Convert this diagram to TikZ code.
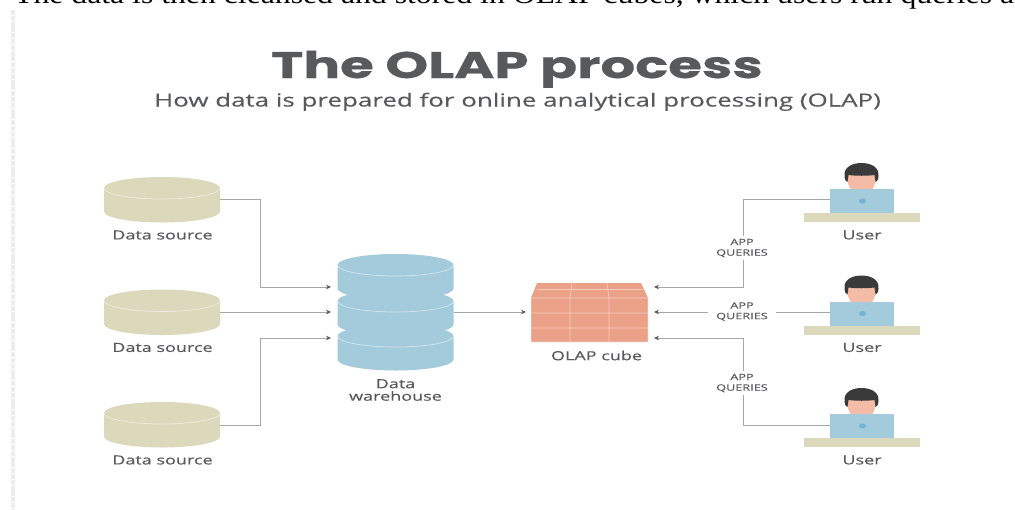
\documentclass[tikz,border=0pt]{standalone}
\usepackage{fontspec}
\setmainfont[FakeStretch=1.175]{Liberation Serif}
\newfontfamily\titlefont[FakeStretch=1.475,FakeBold=0.6]{Poppins Bold}
\newfontfamily\labelfont[FakeStretch=1.44,FakeBold=0.25]{Open Sans}
\usetikzlibrary{arrows.meta}
\definecolor{ink}{HTML}{58595B}
\definecolor{wire}{HTML}{A6A6A6}
\definecolor{sand}{HTML}{DCD8BC}
\definecolor{sky}{HTML}{A3CBDB}
\definecolor{salmon}{HTML}{EBA187}
\definecolor{skin}{HTML}{F4BBA6}
\definecolor{hair}{HTML}{3A3A3A}
\definecolor{dot}{HTML}{6FB5CF}
\tikzset{
  x=1pt,y=-1pt,
  wirepath/.style={draw=wire,line width=1pt},
  arrowpath/.style={wirepath,-{Stealth[length=5pt,width=4.5pt,color=ink]}},
  caption/.style={font=\labelfont\fontsize{12.5}{12.5}\selectfont,text=ink,align=center,inner sep=0pt},
  querylabel/.style={font=\labelfont\fontsize{8.8}{10.5}\selectfont,text=ink,align=center,inner xsep=8pt,inner ysep=2.5pt,fill=white},
  anchorbox/.style={inner sep=0pt,minimum width=116pt,minimum height=45pt},
}
% x, centre y of top ellipse, fill colour
\newcommand{\diskshape}[3]{%
  \fill[#3] (#1-58,#2) -- (#1-58,#2+23.5) arc[start angle=180,end angle=360,x radius=58pt,y radius=11pt]
     -- (#1+58,#2) arc[start angle=0,end angle=180,x radius=58pt,y radius=11pt] -- cycle;
  \draw[white,opacity=.55,line width=.7pt] (#1-58,#2) arc[start angle=180,end angle=360,x radius=58pt,y radius=11pt];
}
\newcommand{\usershape}[2]{%
  \begin{scope}[shift={(#1,#2)}]
    \fill[skin] (-5,20) -- (-5,26) -- (5,26) -- (5,20) -- cycle;
    \fill[skin] (-14,4) .. controls (-14,14) and (-8,21) .. (0,21) .. controls (8,21) and (14,14) .. (14,4) -- (14,-4) -- (-14,-4) -- cycle;
    \fill[hair] (-17,2) .. controls (-18,-7) and (-9,-11) .. (0,-11) .. controls (9,-11) and (18,-7) .. (17,2)
       .. controls (17,6) and (15,8) .. (14,8) -- (13,1) .. controls (5,2) and (-5,2) .. (-13,1) -- (-14,8) .. controls (-15,8) and (-17,6) .. (-17,2) -- cycle;
    \fill[sky] (-31.5,15) rectangle (32.5,39);
    \fill[dot] (1,27) ellipse[x radius=3.5pt,y radius=2.5pt];
    \fill[sand] (-58,39) rectangle (58.5,48);
  \end{scope}%
}
\begin{document}
\begin{tikzpicture}
\useasboundingbox (0,0) rectangle (1015,509);
\clip (0,0) rectangle (1015,509);
\fill[white] (0,0) rectangle (1015,509);
\draw[black!7,line width=4.5pt,dash pattern=on 5pt off 0.8pt] (12.75,10) -- (12.75,509);
\node[anchor=base west,inner sep=0pt,font=\fontsize{27}{29}\selectfont,text=black] (topline) at (14,3) {The data is then cleansed and stored in OLAP cubes, which users run queries a};
\node[inner sep=0pt,font=\titlefont\fontsize{37}{40}\selectfont,text=ink,anchor=base] (title) at (517,78) {The OLAP process};
\node[inner sep=0pt,font=\labelfont\fontsize{18}{20}\selectfont,text=ink,anchor=base] (subtitle) at (517.5,106.5) {How data is prepared for online analytical processing (OLAP)};

% sources
\diskshape{162}{188}{sand}
\diskshape{162}{300.5}{sand}
\diskshape{162}{413}{sand}
\node[anchorbox] (src1) at (162,199) {};
\node[anchorbox] (src2) at (162,312) {};
\node[anchorbox] (src3) at (162,425) {};
\node[caption] (srclab1) at (162.5,235) {Data source};
\node[caption] (srclab2) at (162.5,347.5) {Data source};
\node[caption] (srclab3) at (162.5,460) {Data source};

% warehouse
\diskshape{395.5}{336}{sky}
\diskshape{395.5}{301}{sky}
\diskshape{395.5}{265}{sky}
\node[anchorbox,minimum width=117pt,minimum height=117pt] (wh) at (395.5,312) {};
\node[caption] (whlab) at (395.5,390) {Data\\warehouse};

% cube
\fill[salmon] (531,298) -- (537,283) -- (641,283) -- (648,298) -- (648,342) -- (531,342) -- cycle;
\draw[white,opacity=.45,line width=.7pt] (531,298) -- (648,298) (537,289.5) -- (643,289.5)
  (570,298) -- (570,342) (609,298) -- (609,342) (531,313) -- (648,313) (531,328) -- (648,328)
  (570,298) -- (572,283) (609,298) -- (607,283) (531,342) -- (648,342) (531,298) -- (531,342) (648,298) -- (648,342);
\node[inner sep=0pt,minimum width=117pt,minimum height=59pt] (cube) at (589.5,312.5) {};
\node[caption] (cubelab) at (596.5,355.5) {OLAP cube};

% users
\usershape{861.5}{174}
\usershape{861.5}{286.5}
\usershape{861.5}{399}
\node[inner sep=0pt,minimum width=64pt,minimum height=24pt] (usr1) at (862,199) {};
\node[inner sep=0pt,minimum width=64pt,minimum height=24pt] (usr2) at (862,312) {};
\node[inner sep=0pt,minimum width=64pt,minimum height=24pt] (usr3) at (862,425) {};
\node[caption] (usrlab1) at (862,235) {User};
\node[caption] (usrlab2) at (862,347.5) {User};
\node[caption] (usrlab3) at (862,460) {User};

% connector targets
\coordinate (whin1) at (331,287);
\coordinate (whin2) at (331,312);
\coordinate (whin3) at (331,338);
\coordinate (whout) at (wh.east);
\coordinate (cubein) at (526,312);
\coordinate (cubeq1) at (654,287);
\coordinate (cubeq2) at (654,312);
\coordinate (cubeq3) at (654,338);
\coordinate (bendl1) at (260,199);
\coordinate (bendl3) at (260,425);
\coordinate (bendr1) at (743,199);
\coordinate (bendr3) at (743,425);

\draw[arrowpath] (src1.east) -- (bendl1) |- (whin1);
\draw[arrowpath] (src2.east) -- (whin2);
\draw[arrowpath] (src3.east) -- (bendl3) |- (whin3);
\draw[arrowpath] (whout) -- (cubein);
\draw[arrowpath] (usr1.west) -- (bendr1) |- (cubeq1);
\draw[arrowpath] (usr2.west) -- (cubeq2);
\draw[arrowpath] (usr3.west) -- (bendr3) |- (cubeq3);

\node[querylabel] (q1) at (742,248) {APP\\QUERIES};
\node[querylabel] (q2) at (742,311.5) {APP\\QUERIES};
\node[querylabel] (q3) at (742,383) {APP\\QUERIES};
\end{tikzpicture}
\end{document}
